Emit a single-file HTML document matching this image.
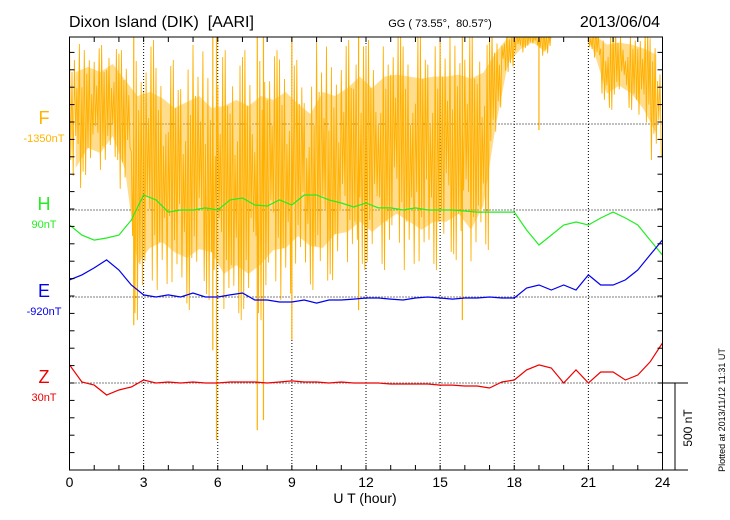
<!DOCTYPE html>
<html><head><meta charset="utf-8"><style>
body{margin:0;background:#fff;}
svg{display:block;font-family:"Liberation Sans",sans-serif;}
</style></head><body>
<svg id="chart" width="730" height="520" viewBox="0 0 730 520">
<defs><clipPath id="plotClip"><rect x="69.5" y="37" width="593" height="433"/></clipPath></defs>
<text x="69" y="27" font-size="16" style="white-space:pre">Dixon Island (DIK)  [AARI]</text>
<text x="440" y="27" font-size="11" text-anchor="middle" style="white-space:pre">GG ( 73.55°,  80.57°)</text>
<text x="660" y="27" font-size="16" text-anchor="end">2013/06/04</text>
<g id="grid"></g>
<g id="series" clip-path="url(#plotClip)"></g>
<g id="axes"></g>
<text x="365" y="503" font-size="14" text-anchor="middle">U T (hour)</text>
<text transform="translate(725,410) rotate(-90)" font-size="9" text-anchor="middle">Plotted at 2013/11/12 11:31  UT</text>
<text transform="translate(692,428) rotate(-90)" font-size="12" text-anchor="middle">500 nT</text>
</svg>
<script>
const hours = [0,3,6,9,12,15,18,21,24];
const halfHours = Array.from({length:49},(_,i)=>i*0.5);
const hValues = [-86,-144,-173,-161,-144,-58,86,58,-12,0,0,12,0,58,69,29,23,58,29,86,86,58,40,17,40,12,12,0,12,0,0,0,-6,-12,-12,-12,-12,-115,-201,-144,-86,-69,-86,-46,-12,-46,-86,-173,-259];
const eValues = [98,127,167,213,155,69,12,0,12,0,23,0,0,12,23,-17,-17,-29,-29,-17,-35,-17,-17,-12,-6,-6,-12,-17,-6,0,-6,-12,-6,-6,0,-6,-6,52,69,40,69,40,127,69,69,98,155,242,328];
const zValues = [104,6,-12,-69,-40,-23,17,0,6,0,6,0,0,6,6,6,0,6,12,6,6,0,6,0,0,0,-6,-6,-6,-6,-12,-12,-17,-17,-29,6,17,75,104,86,0,75,0,63,63,17,46,121,230];
const fHigh = [483,483,454,483,425,483,483,425,368,425,454,368,425,454,425,483,425,483,368,310,483,425,483,550,483,550,550,550,550,550,550,550,550,550,550,550,550,550,550,600,600,600,550,550,550,550,550,550];
const fLow = [-437,-293,-322,-207,-437,-1127,-1012,-954,-1012,-1069,-1012,-1012,-1184,-1127,-1184,-1127,-1012,-1012,-897,-954,-1012,-897,-897,-839,-897,-839,-782,-839,-897,-839,-839,-782,-897,-724,-150,300,400,450,380,560,560,560,368,81,138,81,-35,-207];
const fSpikeHours = [2.6,5.8,5.95,7.6,7.85,9.0,11.7,15.9,19.0];
const fSpikeValues = [-1156,-1300,-1817,-1760,-1702,-1240,-1070,-1127,-35];
const baselines = {F:124,H:210,E:297,Z:383};
const labels = [["F","-1350nT","#ffb400"],["H","90nT","#22ee22"],["E","-920nT","#0000ee"],["Z","30nT","#ee0000"]];

const NS="http://www.w3.org/2000/svg";
const X0=69.5,X1=662.5,Y0=37,Y1=470,PXNT=87/500;
const xs=h=>X0+(X1-X0)*h/24;
const ys=(v,base)=>base-v*PXNT;
function mk(tag,attrs,parent){const e=document.createElementNS(NS,tag);for(const k in attrs)e.setAttribute(k,attrs[k]);parent.appendChild(e);return e;}
const grid=document.getElementById('grid'),ser=document.getElementById('series'),ax=document.getElementById('axes'),svg=document.getElementById('chart');

hours.slice(1,-1).forEach(h=>{
 const l=mk('line',{x1:xs(h),x2:xs(h),y1:Y0,y2:Y1,stroke:'#000','stroke-width':1,'stroke-dasharray':'1,2'},grid);
 
 
});
Object.keys(baselines).forEach(k=>{
 const l=mk('line',{x1:X0,x2:X1,y1:baselines[k],y2:baselines[k],stroke:'#000','stroke-width':1,'stroke-dasharray':'1,2'},grid);
 
 
});

(function(){
 const w=(X1-X0)/48;
 // core band (inner 60%)
 let top='',bot='';
 fHigh.forEach((v,i)=>{const m=(v+fLow[i])/2;const x=xs(i*0.5)+w/2;top+=(i?'L':'M')+x+','+ys(m+(v-m)*0.6,baselines.F);});
 for(let i=fLow.length-1;i>=0;i--){const m=(fHigh[i]+fLow[i])/2;const x=xs(i*0.5)+w/2;bot+='L'+x+','+ys(m+(fLow[i]-m)*0.6,baselines.F);}
 const band=mk('path',{d:top+bot+'Z',fill:'#ffb400','fill-opacity':0.45,stroke:'none'},ser);
 
 
 const frac=[1,0.3,0.75,0.5,0.95,0.2,0.6,0.85,0.4,0.7];
 let d='',n=0;
 fHigh.forEach((hv,i)=>{
  const lv=fLow[i];const mid=(hv+lv)/2;
  for(let j=0;j<10;j++){
   const t=i*0.5+j*0.05;const f=frac[(j*3+i)%10];
   const v=(j%2===0)?mid+(hv-mid)*f:mid+(lv-mid)*f;
   d+=(n++?'L':'M')+xs(t).toFixed(1)+','+ys(v,baselines.F).toFixed(1);
  }
 });
 const p=mk('path',{d:d,fill:'none',stroke:'#ffb000','stroke-width':0.9},ser);
 
 
 fSpikeHours.forEach((h,i)=>{
  const s=mk('line',{x1:xs(h),x2:xs(h),y1:Y0,y2:ys(fSpikeValues[i],baselines.F),stroke:'#ffb000','stroke-width':1.2},ser);
  
  
 });
})();

[['H',hValues,'#22ee22'],['E',eValues,'#0000ee'],['Z',zValues,'#ee0000']].forEach(([k,vals,c])=>{
 const d=vals.map((v,i)=>(i?'L':'M')+xs(halfHours[i]).toFixed(1)+','+ys(v,baselines[k]).toFixed(1)).join('');
 const p=mk('path',{d:d,fill:'none',stroke:c,'stroke-width':1.2},ser);
 
 
});

const fr=mk('rect',{x:X0,y:Y0,width:X1-X0,height:Y1-Y0,fill:'none',stroke:'#000','stroke-width':1},ax);


for(let h=0;h<=24;h++){
 mk('line',{x1:xs(h),x2:xs(h),y1:Y0,y2:Y0+5,stroke:'#000'},ax);
 mk('line',{x1:xs(h),x2:xs(h),y1:Y1,y2:Y1-5,stroke:'#000'},ax);
}
for(let y=Y1;y>Y0;y-=100*PXNT){
 mk('line',{x1:X0,x2:X0+5,y1:y,y2:y,stroke:'#000'},ax);
 mk('line',{x1:X1,x2:X1-5,y1:y,y2:y,stroke:'#000'},ax);
}
hours.forEach(h=>{
 const t=mk('text',{x:xs(h),y:487,'font-size':14,'text-anchor':'middle'},ax);
 t.textContent=h;
 
 
});
mk('line',{x1:X1,x2:688,y1:baselines.Z,y2:baselines.Z,stroke:'#000'},ax);
mk('line',{x1:X1,x2:688,y1:Y1,y2:Y1,stroke:'#000'},ax);
const sb=mk('line',{x1:675,x2:675,y1:baselines.Z,y2:baselines.Z+500*PXNT,stroke:'#000'},ax);



labels.forEach(([k,off,c])=>{
 const b=baselines[k];
 const t=mk('text',{x:44,y:b,'font-size':18,'text-anchor':'middle',fill:c},svg);
 t.textContent=k;
 
 
 const o=mk('text',{x:44,y:b+18,'font-size':11,'text-anchor':'middle',fill:c},svg);
 o.textContent=off;
 
 
});
</script>
</body></html>
